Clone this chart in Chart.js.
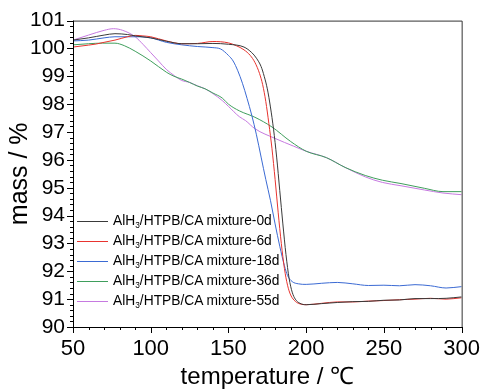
<!DOCTYPE html>
<html>
<head>
<meta charset="utf-8">
<style>
  body { margin: 0; background: #fff; }
  #wrap { position: relative; width: 489px; height: 392px; }
  #legend { position: absolute; left: 77px; top: 210px; font-family: 'Liberation Sans', Arial, sans-serif; font-size: 15px; color: #000; }
  #legend div { height: 20px; line-height: 20px; white-space: nowrap; }
  #legend span.ln { display: inline-block; width: 31px; height: 1px; vertical-align: middle; margin-right: 5px; }
  #legend span.tx { display: inline-block; transform: scaleX(0.92); transform-origin: left center; }
  #legend sub { font-size: 9px; vertical-align: -3px; line-height: 0; }
</style>
</head>
<body>
<div id="wrap">
  <canvas id="tgChart" width="489" height="392"></canvas>
  <div id="legend"></div>
</div>

<script src="https://cdn.jsdelivr.net/npm/chart.js"></script>
<script>
  // series names (the "3" is drawn as subscript in the legend)
  const seriesNames = ['0d', '6d', '18d', '36d', '55d'];
  const seriesColors = ['#3a3a3a', '#e8342f', '#3b6ad3', '#3f9e5c', '#c67ae0'];

  const xTicks = [50, 100, 150, 200, 250, 300];
  const yTicks = [90, 91, 92, 93, 94, 95, 96, 97, 98, 99, 100, 101];

  // mixture-0d
  const temp0d = [50, 60, 70, 77, 85, 90, 100, 110, 120, 130, 140, 150, 160, 165, 168, 171, 173, 175, 177, 179, 181, 183, 185, 187, 189, 191, 193, 196, 200, 210, 220, 230, 240, 250, 260, 270, 280, 290, 300];
  const mass0d = [100.3, 100.38, 100.48, 100.53, 100.5, 100.45, 100.38, 100.26, 100.17, 100.17, 100.18, 100.15, 100.05, 99.85, 99.65, 99.35, 99.0, 98.55, 97.9, 97.1, 96.1, 94.9, 93.7, 92.6, 91.75, 91.25, 91.0, 90.85, 90.8, 90.84, 90.88, 90.91, 90.92, 90.96, 90.97, 91.02, 91.02, 91.03, 91.08];

  // mixture-6d
  const temp6d = [50, 60, 65, 70, 77, 85, 90, 95, 100, 110, 120, 130, 140, 150, 155, 160, 164, 167, 170, 172, 174, 176, 178, 180, 182, 184, 186, 188, 190, 193, 196, 200, 210, 220, 230, 240, 250, 260, 270, 280, 290, 300];
  const mass6d = [100.05, 100.12, 100.16, 100.22, 100.3, 100.42, 100.47, 100.45, 100.42, 100.27, 100.17, 100.18, 100.25, 100.2, 100.1, 99.95, 99.75, 99.5, 99.1, 98.7, 98.1, 97.3, 96.4, 95.3, 94.1, 93.0, 92.1, 91.5, 91.15, 90.92, 90.83, 90.8, 90.85, 90.9, 90.9, 90.93, 90.95, 90.98, 91.0, 91.03, 91.0, 91.05];

  // mixture-18d
  const temp18d = [50, 60, 70, 77, 90, 100, 110, 120, 130, 140, 145, 150, 153, 156, 159, 162, 165, 168, 171, 174, 177, 180, 183, 186, 188, 191, 195, 200, 210, 220, 230, 240, 250, 260, 270, 280, 290, 300];
  const mass18d = [100.27, 100.3, 100.38, 100.42, 100.42, 100.38, 100.22, 100.13, 100.07, 100.03, 99.98, 99.75, 99.55, 99.2, 98.75, 98.2, 97.6, 96.9, 96.1, 95.3, 94.55, 93.7, 92.9, 92.2, 91.85, 91.63, 91.55, 91.53, 91.57, 91.6, 91.55, 91.49, 91.5, 91.48, 91.52, 91.48, 91.4, 91.45];

  // mixture-36d
  const temp36d = [50, 60, 69, 77, 83, 90, 100, 110, 115, 120, 125, 130, 135, 140, 146, 150, 157, 167, 178, 190, 200, 213, 225, 238, 249, 261, 276, 288, 300];
  const mass36d = [100.13, 100.17, 100.19, 100.19, 100.1, 99.9, 99.55, 99.15, 99.0, 98.9, 98.78, 98.65, 98.55, 98.4, 98.22, 98.0, 97.76, 97.53, 97.18, 96.66, 96.31, 96.08, 95.73, 95.44, 95.27, 95.15, 94.98, 94.86, 94.86];

  // mixture-55d
  const temp55d = [50, 60, 70, 76, 82, 90, 95, 100, 105, 110, 115, 120, 125, 130, 135, 140, 146, 150, 157, 161, 167, 180, 192, 200, 213, 225, 238, 249, 261, 276, 288, 300];
  const mass55d = [100.3, 100.48, 100.65, 100.71, 100.65, 100.42, 100.15, 99.85, 99.55, 99.25, 99.03, 98.85, 98.78, 98.66, 98.55, 98.38, 98.13, 97.92, 97.55, 97.41, 97.12, 96.77, 96.49, 96.31, 96.08, 95.73, 95.39, 95.19, 95.07, 94.92, 94.81, 94.75];

  const temps = [temp0d, temp6d, temp18d, temp36d, temp55d];
  const masses = [mass0d, mass6d, mass18d, mass36d, mass55d];

  const FONT = "'Liberation Sans', Arial, sans-serif";

  function toPoints(t, m) {
      return t.map(function (v, i) { return { x: v, y: m[i] }; });
  }

  // minor ticks and the box around the plot
  const frameAndTicks = {
      id: 'frameAndTicks',
      afterDraw(chart) {
          const ctx = chart.ctx;
          const a = chart.chartArea;
          const x = chart.scales.x;
          const y = chart.scales.y;
          ctx.save();
          ctx.lineWidth = 1;
          ctx.strokeStyle = '#333';
          ctx.beginPath();
          ctx.moveTo(a.left, a.top + 0.5);
          ctx.lineTo(a.right + 0.5, a.top + 0.5);
          ctx.lineTo(a.right + 0.5, a.bottom);
          ctx.stroke();
          ctx.strokeStyle = '#000';
          ctx.beginPath();
          ctx.moveTo(a.left + 0.5, a.top);
          ctx.lineTo(a.left + 0.5, a.bottom + 0.5);
          ctx.lineTo(a.right + 0.5, a.bottom + 0.5);
          // x ticks every 10, outward
          for (let i = 0; i <= 25; i++) {
              const v = 50 + i * 10;
              const px = Math.round(x.getPixelForValue(v)) + 0.5;
              const len = (v % 50 === 0) ? 6 : 3;
              ctx.moveTo(px, a.bottom);
              ctx.lineTo(px, a.bottom + len);
          }
          // y ticks every 0.2, outward
          for (let i = 0; i <= 55; i++) {
              const v = 90 + i * 0.2;
              const py = Math.round(y.getPixelForValue(v)) + 0.5;
              const len = (i % 5 === 0) ? 6 : 3;
              ctx.moveTo(a.left, py);
              ctx.lineTo(a.left - len, py);
          }
          ctx.stroke();
          ctx.restore();
      }
  };

  const ctx = document.getElementById('tgChart');
  const tgChart = new Chart(ctx, {
      type: 'line',
      plugins: [frameAndTicks],
      data: {
          datasets: seriesNames.map(function (name, i) {
              return {
                  label: 'AlH3/HTPB/CA mixture-' + name,
                  data: toPoints(temps[i], masses[i]),
                  borderColor: seriesColors[i],
                  backgroundColor: seriesColors[i],
                  borderWidth: 1,
                  pointRadius: 0,
                  cubicInterpolationMode: 'monotone',
                  fill: false
              };
          })
      },
      options: {
          responsive: false,
          animation: false,
          layout: { padding: { top: 10, right: 17, left: 0, bottom: 0 } },
          plugins: {
              legend: { display: false },
              tooltip: { enabled: false }
          },
          scales: {
              x: {
                  type: 'linear',
                  min: 50,
                  max: 300,
                  afterBuildTicks: function (s) { s.ticks = xTicks.map(function (v) { return { value: v }; }); },
                  afterFit: function (s) { s.height = 65; },
                  grid: { display: false, drawTicks: false },
                  border: { display: false },
                  ticks: { color: '#000', font: { family: FONT, size: 22 }, padding: 9, maxRotation: 0, autoSkip: false },
                  title: { display: true, text: 'temperature / ℃', color: '#000', font: { family: FONT, size: 24 }, padding: 0 }
              },
              y: {
                  min: 90,
                  max: 101,
                  afterBuildTicks: function (s) { s.ticks = yTicks.map(function (v) { return { value: v }; }); },
                  afterFit: function (s) { s.width = 73; },
                  grid: { display: false, drawTicks: false },
                  border: { display: false },
                  ticks: { color: '#000', font: { family: FONT, size: 21 }, padding: 8, autoSkip: false },
                  title: { display: true, text: 'mass / %', color: '#000', font: { family: FONT, size: 25 }, padding: { top: 5, bottom: 4 } }
              }
          }
      }
  });

  // html legend so the subscript 3 can be shown
  const legendBox = document.getElementById('legend');
  seriesNames.forEach(function (name, i) {
      const row = document.createElement('div');
      row.innerHTML = '<span class="ln" style="background:' + seriesColors[i] + '"></span><span class="tx">AlH<sub>3</sub>/HTPB/CA mixture-' + name + '</span>';
      legendBox.appendChild(row);
  });
</script>
</body>
</html>
